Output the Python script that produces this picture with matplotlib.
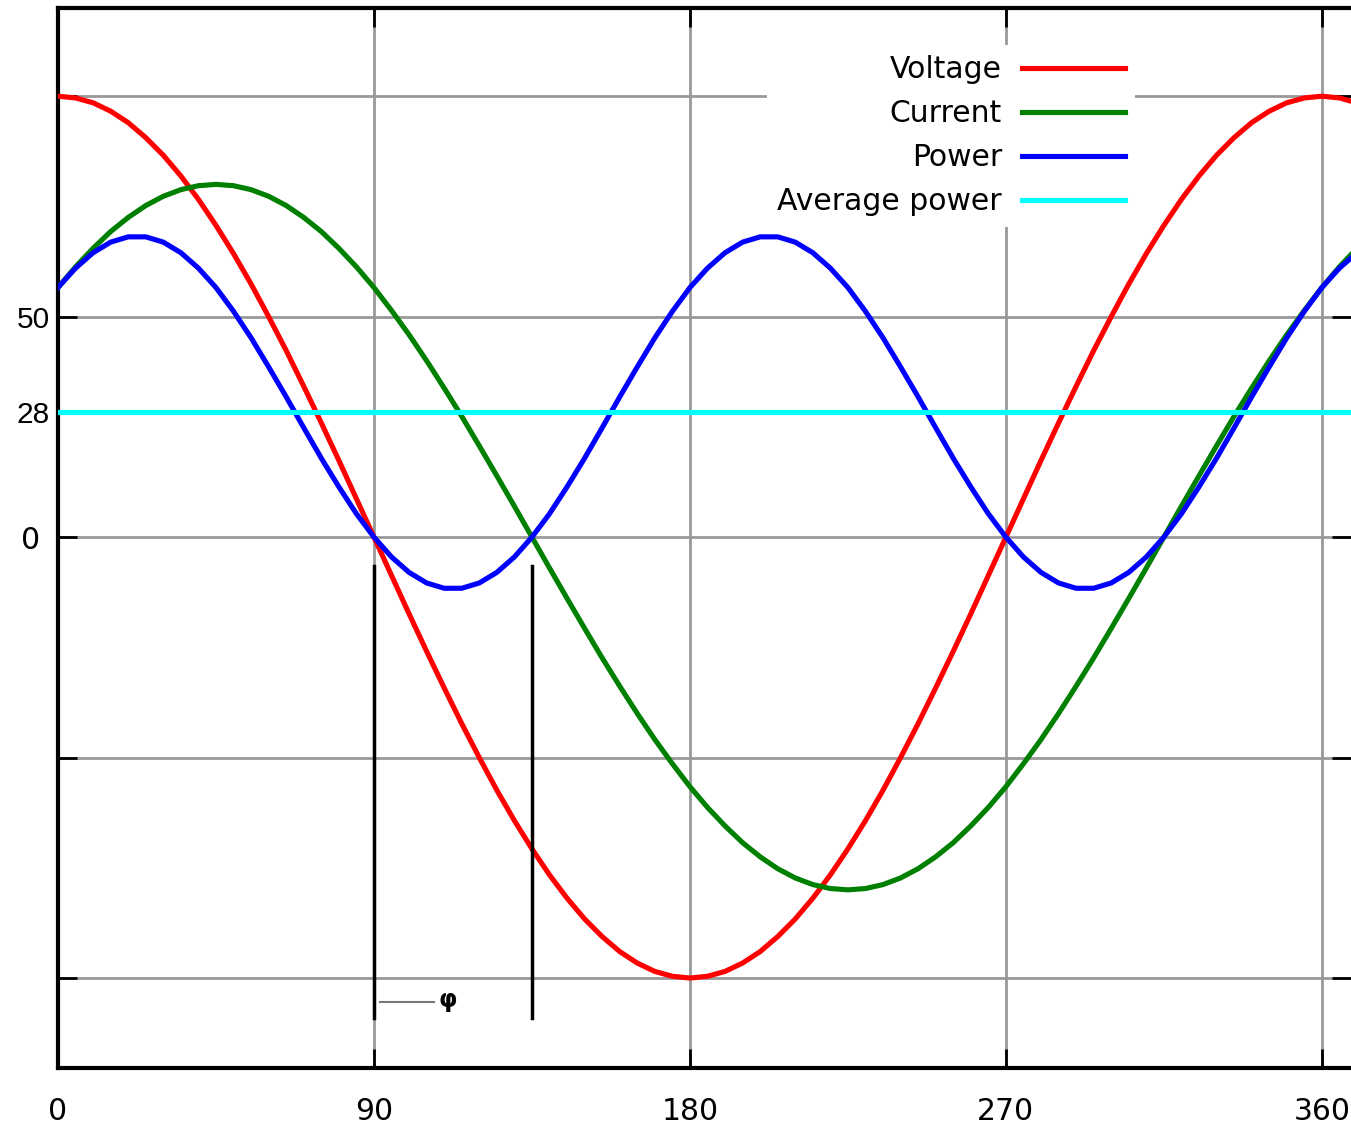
import matplotlib.pyplot as plt

# angle in degrees, read every 5 degrees
angle = list(range(0, 375, 5))

voltage = [100.0, 99.6, 98.5, 96.6, 94.0, 90.6, 86.6, 81.9, 76.6, 70.7, 64.3, 57.4, 50.0, 42.3, 34.2, 25.9, 17.4, 8.7,
           0.0, -8.7, -17.4, -25.9, -34.2, -42.3, -50.0, -57.4, -64.3, -70.7, -76.6, -81.9, -86.6, -90.6, -94.0, -96.6,
           -98.5, -99.6, -100.0, -99.6, -98.5, -96.6, -94.0, -90.6, -86.6, -81.9, -76.6, -70.7, -64.3, -57.4, -50.0,
           -42.3, -34.2, -25.9, -17.4, -8.7, 0.0, 8.7, 17.4, 25.9, 34.2, 42.3, 50.0, 57.4, 64.3, 70.7, 76.6, 81.9, 86.6,
           90.6, 94.0, 96.6, 98.5, 99.6, 100.0, 99.6, 98.5]

current = [56.6, 61.3, 65.5, 69.3, 72.5, 75.2, 77.3, 78.8, 79.7, 80.0, 79.7, 78.8, 77.3, 75.2, 72.5, 69.3, 65.5, 61.3,
           56.6, 51.4, 45.9, 40.0, 33.8, 27.4, 20.7, 13.9, 7.0, 0.0, -7.0, -13.9, -20.7, -27.4, -33.8, -40.0, -45.9,
           -51.4, -56.6, -61.3, -65.5, -69.3, -72.5, -75.2, -77.3, -78.8, -79.7, -80.0, -79.7, -78.8, -77.3, -75.2,
           -72.5, -69.3, -65.5, -61.3, -56.6, -51.4, -45.9, -40.0, -33.8, -27.4, -20.7, -13.9, -7.0, 0.0, 7.0, 13.9,
           20.7, 27.4, 33.8, 40.0, 45.9, 51.4, 56.6, 61.3, 65.5]

power = [56.6, 61.0, 64.5, 66.9, 68.1, 68.1, 66.9, 64.5, 61.0, 56.6, 51.2, 45.2, 38.6, 31.8, 24.8, 17.9, 11.4, 5.3,
         0.0, -4.5, -8.0, -10.4, -11.6, -11.6, -10.4, -8.0, -4.5, 0.0, 5.3, 11.4, 17.9, 24.8, 31.8, 38.6, 45.2, 51.2,
         56.6, 61.0, 64.5, 66.9, 68.1, 68.1, 66.9, 64.5, 61.0, 56.6, 51.2, 45.2, 38.6, 31.8, 24.8, 17.9, 11.4, 5.3,
         0.0, -4.5, -8.0, -10.4, -11.6, -11.6, -10.4, -8.0, -4.5, 0.0, 5.3, 11.4, 17.9, 24.8, 31.8, 38.6, 45.2, 51.2,
         56.6, 61.0, 64.5]

avg_power = 28.3
phase_marks = [90, 135]

x_ticks = [0, 90, 180, 270, 360]
y_ticks = [-100, -50, 0, 28.3, 50, 100]
y_tick_labels = ['', '', '0 ', '28', '50', '']

fig = plt.figure(figsize=(13.51, 11.27), dpi=100)
ax = fig.add_axes([58 / 1351, 1 - 1068 / 1127, 1 - 58 / 1351, 1060 / 1127])

ax.plot(angle, voltage, color='red', lw=3.7, label='Voltage', zorder=3)
ax.plot(angle, current, color='green', lw=3.7, label='Current', zorder=3)
ax.plot(angle, power, color='blue', lw=3.7, label='Power', zorder=3)
ax.axhline(avg_power, color='cyan', lw=3.7, label='Average power', zorder=3)

# phase angle marker
for m in phase_marks:
    ax.plot([m, m], [-6.6, -109], color='black', lw=2.5, zorder=4)
ax.plot([91.7, 107.1], [-105.5, -105.5], color='#777777', lw=1.5, zorder=4)
ax.text(111, -105, 'φ', fontsize=17, fontweight='bold', ha='center', va='center', zorder=4)

ax.set_xlim(0, 368.3)
ax.set_ylim(-120.4, 120.0)
ax.set_xticks(x_ticks)
ax.set_yticks(y_ticks)
ax.set_yticklabels(y_tick_labels)

ax.grid(True, color='#999999', lw=2, zorder=1)
ax.set_axisbelow(True)

for s in ['left', 'top', 'bottom']:
    ax.spines[s].set_linewidth(3)
    ax.spines[s].set_color('black')
ax.spines['right'].set_visible(False)

ax.tick_params(direction='in', length=14, width=2, color='black', top=True, right=True, labelsize=21.5)
ax.tick_params(axis='x', pad=21)
ax.tick_params(axis='y', pad=6)
for lab in ax.get_yticklabels():
    if lab.get_text() in ('50', '28'):
        lab.set_family('Liberation Sans')

leg = ax.legend(loc='upper right', bbox_to_anchor=(1135 / 1351, 1 - 45 / 1127), bbox_transform=fig.transFigure,
                borderaxespad=0, borderpad=0.35, handlelength=3.45, handletextpad=0.65, labelspacing=0.5,
                markerfirst=False, fontsize=21.5, frameon=True, fancybox=False)
leg.get_frame().set_facecolor('white')
leg.get_frame().set_edgecolor('none')
leg.get_frame().set_alpha(1)
for t in leg.get_texts():
    t.set_ha('right')
leg.set_zorder(5)

plt.savefig('out.png', dpi=100)
